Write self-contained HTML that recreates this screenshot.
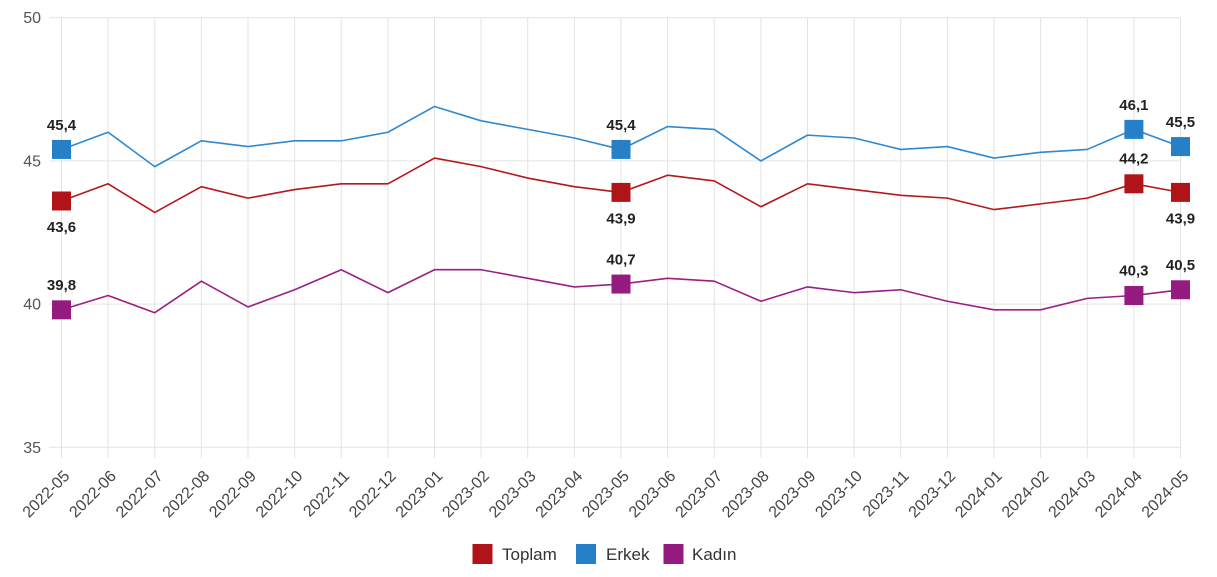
<!DOCTYPE html>
<html>
<head>
<meta charset="utf-8">
<style>
  html, body { margin:0; padding:0; background:#fff; }
  body { width:1217px; height:577px; overflow:hidden; }
  svg { display:block; font-family:"Liberation Sans", sans-serif; }
  .grid { stroke:#e3e3e3; stroke-width:1; }
  .ytick { font-size:16px; fill:#555; }
  .xtick { font-size:16px; fill:#444; }
  .dl { font-size:15px; font-weight:bold; fill:#222; text-anchor:middle; }
  .leg { font-size:17px; fill:#333; }
</style>
</head>
<body>
<svg width="1217" height="577" viewBox="0 0 1217 577" xmlns="http://www.w3.org/2000/svg">
  <!-- horizontal grid -->
  <g class="grid">
    <line x1="49" y1="17.7" x2="1180.5" y2="17.7"/>
    <line x1="49" y1="160.9" x2="1180.5" y2="160.9"/>
    <line x1="49" y1="304.1" x2="1180.5" y2="304.1"/>
    <line x1="49" y1="447.3" x2="1180.5" y2="447.3"/>
  </g>
  <!-- vertical grid -->
  <g class="grid">
    <line x1="61.5" y1="17.7" x2="61.5" y2="458"/>
    <line x1="108.1" y1="17.7" x2="108.1" y2="458"/>
    <line x1="154.75" y1="17.7" x2="154.75" y2="458"/>
    <line x1="201.4" y1="17.7" x2="201.4" y2="458"/>
    <line x1="248" y1="17.7" x2="248" y2="458"/>
    <line x1="294.6" y1="17.7" x2="294.6" y2="458"/>
    <line x1="341.25" y1="17.7" x2="341.25" y2="458"/>
    <line x1="387.9" y1="17.7" x2="387.9" y2="458"/>
    <line x1="434.5" y1="17.7" x2="434.5" y2="458"/>
    <line x1="481.1" y1="17.7" x2="481.1" y2="458"/>
    <line x1="527.75" y1="17.7" x2="527.75" y2="458"/>
    <line x1="574.4" y1="17.7" x2="574.4" y2="458"/>
    <line x1="621" y1="17.7" x2="621" y2="458"/>
    <line x1="667.6" y1="17.7" x2="667.6" y2="458"/>
    <line x1="714.25" y1="17.7" x2="714.25" y2="458"/>
    <line x1="760.9" y1="17.7" x2="760.9" y2="458"/>
    <line x1="807.5" y1="17.7" x2="807.5" y2="458"/>
    <line x1="854.1" y1="17.7" x2="854.1" y2="458"/>
    <line x1="900.75" y1="17.7" x2="900.75" y2="458"/>
    <line x1="947.4" y1="17.7" x2="947.4" y2="458"/>
    <line x1="994" y1="17.7" x2="994" y2="458"/>
    <line x1="1040.6" y1="17.7" x2="1040.6" y2="458"/>
    <line x1="1087.25" y1="17.7" x2="1087.25" y2="458"/>
    <line x1="1133.9" y1="17.7" x2="1133.9" y2="458"/>
    <line x1="1180.5" y1="17.7" x2="1180.5" y2="458"/>
  </g>

  <!-- y ticks -->
  <g class="ytick" text-anchor="end">
    <text x="41" y="23.2">50</text>
    <text x="41" y="166.4">45</text>
    <text x="41" y="309.6">40</text>
    <text x="41" y="452.8">35</text>
  </g>

  <!-- x ticks -->
  <g class="xtick" text-anchor="end">
    <text transform="translate(70.5,477) rotate(-45)">2022-05</text>
    <text transform="translate(117.1,477) rotate(-45)">2022-06</text>
    <text transform="translate(163.75,477) rotate(-45)">2022-07</text>
    <text transform="translate(210.4,477) rotate(-45)">2022-08</text>
    <text transform="translate(257,477) rotate(-45)">2022-09</text>
    <text transform="translate(303.6,477) rotate(-45)">2022-10</text>
    <text transform="translate(350.25,477) rotate(-45)">2022-11</text>
    <text transform="translate(396.9,477) rotate(-45)">2022-12</text>
    <text transform="translate(443.5,477) rotate(-45)">2023-01</text>
    <text transform="translate(490.1,477) rotate(-45)">2023-02</text>
    <text transform="translate(536.75,477) rotate(-45)">2023-03</text>
    <text transform="translate(583.4,477) rotate(-45)">2023-04</text>
    <text transform="translate(630,477) rotate(-45)">2023-05</text>
    <text transform="translate(676.6,477) rotate(-45)">2023-06</text>
    <text transform="translate(723.25,477) rotate(-45)">2023-07</text>
    <text transform="translate(769.9,477) rotate(-45)">2023-08</text>
    <text transform="translate(816.5,477) rotate(-45)">2023-09</text>
    <text transform="translate(863.1,477) rotate(-45)">2023-10</text>
    <text transform="translate(909.75,477) rotate(-45)">2023-11</text>
    <text transform="translate(956.4,477) rotate(-45)">2023-12</text>
    <text transform="translate(1003,477) rotate(-45)">2024-01</text>
    <text transform="translate(1049.6,477) rotate(-45)">2024-02</text>
    <text transform="translate(1096.25,477) rotate(-45)">2024-03</text>
    <text transform="translate(1142.9,477) rotate(-45)">2024-04</text>
    <text transform="translate(1189.5,477) rotate(-45)">2024-05</text>
  </g>

  <!-- Erkek (blue) -->
  <polyline fill="none" stroke="#2f89d0" stroke-width="1.6" stroke-linejoin="round"
    points="61.5,149.44 108.1,132.26 154.75,166.63 201.4,140.85 248,146.58 294.6,140.85 341.25,140.85 387.9,132.26 434.5,106.48 481.1,120.8 527.75,129.4 574.4,137.99 621,149.44 667.6,126.53 714.25,129.4 760.9,160.9 807.5,135.12 854.1,137.99 900.75,149.44 947.4,146.58 994,158.04 1040.6,152.31 1087.25,149.44 1133.9,129.4 1180.5,146.58"/>
  <!-- Toplam (red) -->
  <polyline fill="none" stroke="#b5171c" stroke-width="1.6" stroke-linejoin="round"
    points="61.5,201.0 108.1,183.81 154.75,212.45 201.4,186.68 248,198.13 294.6,189.54 341.25,183.81 387.9,183.81 434.5,158.04 481.1,166.63 527.75,178.08 574.4,186.68 621,192.4 667.6,175.22 714.25,180.95 760.9,206.72 807.5,183.81 854.1,189.54 900.75,195.27 947.4,198.13 994,209.59 1040.6,203.86 1087.25,198.13 1133.9,183.81 1180.5,192.4"/>
  <!-- Kadın (purple) -->
  <polyline fill="none" stroke="#9a1f86" stroke-width="1.6" stroke-linejoin="round"
    points="61.5,309.83 108.1,295.51 154.75,312.69 201.4,281.19 248,306.96 294.6,289.78 341.25,269.73 387.9,292.64 434.5,269.73 481.1,269.73 527.75,278.32 574.4,286.92 621,284.05 667.6,278.32 714.25,281.19 760.9,301.24 807.5,286.92 854.1,292.64 900.75,289.78 947.4,301.24 994,309.83 1040.6,309.83 1087.25,298.37 1133.9,295.51 1180.5,289.78"/>

  <!-- markers -->
  <g fill="#2580c7">
    <rect x="52" y="139.94" width="19" height="19"/>
    <rect x="611.5" y="139.94" width="19" height="19"/>
    <rect x="1124.4" y="119.9" width="19" height="19"/>
    <rect x="1171" y="137.08" width="19" height="19"/>
  </g>
  <g fill="#b01419">
    <rect x="52" y="191.5" width="19" height="19"/>
    <rect x="611.5" y="182.9" width="19" height="19"/>
    <rect x="1124.4" y="174.31" width="19" height="19"/>
    <rect x="1171" y="182.9" width="19" height="19"/>
  </g>
  <g fill="#951b81">
    <rect x="52" y="300.33" width="19" height="19"/>
    <rect x="611.5" y="274.55" width="19" height="19"/>
    <rect x="1124.4" y="286.01" width="19" height="19"/>
    <rect x="1171" y="280.28" width="19" height="19"/>
  </g>

  <!-- data labels -->
  <g class="dl">
    <text x="61.5" y="130">45,4</text>
    <text x="61.5" y="232">43,6</text>
    <text x="61.5" y="290">39,8</text>

    <text x="621" y="130">45,4</text>
    <text x="621" y="223.4">43,9</text>
    <text x="621" y="264.5">40,7</text>

    <text x="1133.9" y="110">46,1</text>
    <text x="1133.9" y="163.5">44,2</text>
    <text x="1133.9" y="275.5">40,3</text>

    <text x="1180.5" y="127">45,5</text>
    <text x="1180.5" y="223.4">43,9</text>
    <text x="1180.5" y="270">40,5</text>
  </g>

  <!-- legend -->
  <rect x="472.5" y="544" width="20" height="20" fill="#b01419"/>
  <text class="leg" x="502" y="560">Toplam</text>
  <rect x="576" y="544" width="20" height="20" fill="#2580c7"/>
  <text class="leg" x="606" y="560">Erkek</text>
  <rect x="663.5" y="544" width="20" height="20" fill="#951b81"/>
  <text class="leg" x="692" y="560">Kadın</text>
</svg>
</body>
</html>
